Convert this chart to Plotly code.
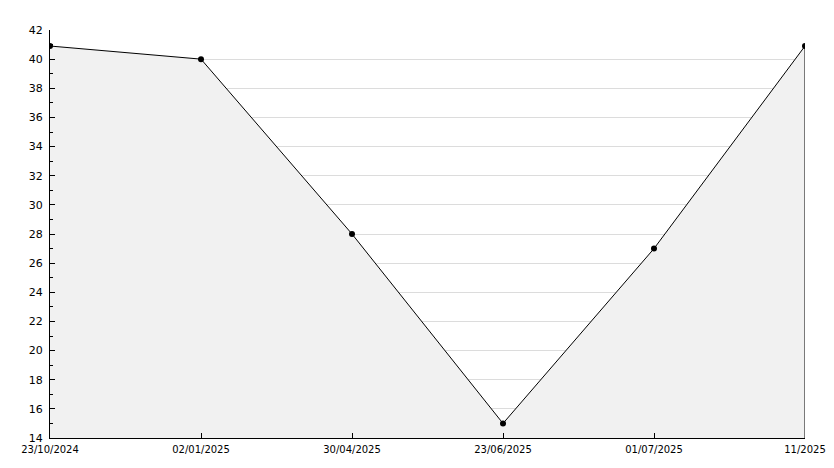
import plotly.graph_objects as go

categories = ["23/10/2024", "02/01/2025", "30/04/2025", "23/06/2025", "01/07/2025", "11/2025"]
values = [40.9, 40, 28, 15, 27, 40.9]
y_min, y_max = 14, 42

idx = list(range(len(categories)))

fig = go.Figure()
fig.add_trace(go.Scatter(
    x=idx, y=values, mode="none", fill="tozeroy", fillcolor="#f1f1f1",
    hoverinfo="skip", showlegend=False))
fig.add_trace(go.Scatter(
    x=idx + [idx[-1]], y=values + [y_min], mode="lines",
    line=dict(color="black", width=1), hoverinfo="skip", showlegend=False))
fig.add_trace(go.Scatter(
    x=idx, y=values, mode="markers",
    marker=dict(color="black", size=6, symbol="circle"), showlegend=False))

# page body has an 8px margin, so the figure is sized/offset to compensate
fig.update_layout(
    width=826, height=460,
    margin=dict(l=42, r=29, t=22, b=30, autoexpand=False),
    paper_bgcolor="white", plot_bgcolor="white",
    font=dict(family="DejaVu Sans", size=11, color="black"),
    showlegend=False,
)
fig.update_xaxes(
    range=[0, len(categories) - 1], tickmode="array", tickvals=idx, ticktext=categories,
    showgrid=False, zeroline=False, showline=True, linecolor="black", linewidth=1,
    ticks="inside", ticklen=5, tickcolor="black", tickfont=dict(size=10),
    ticklabelstandoff=2, automargin=False,
)
fig.update_yaxes(
    range=[y_min, y_max], dtick=2, tick0=y_min,
    showgrid=True, gridcolor="#dcdcdc", gridwidth=1, zeroline=False,
    showline=True, linecolor="black", linewidth=1,
    ticks="inside", ticklen=5, tickcolor="black", automargin=False,
    ticklabelstandoff=4,
    minor=dict(ticks="inside", ticklen=3, dtick=1, tickcolor="black", showgrid=False),
)

fig.write_html("out.html")
